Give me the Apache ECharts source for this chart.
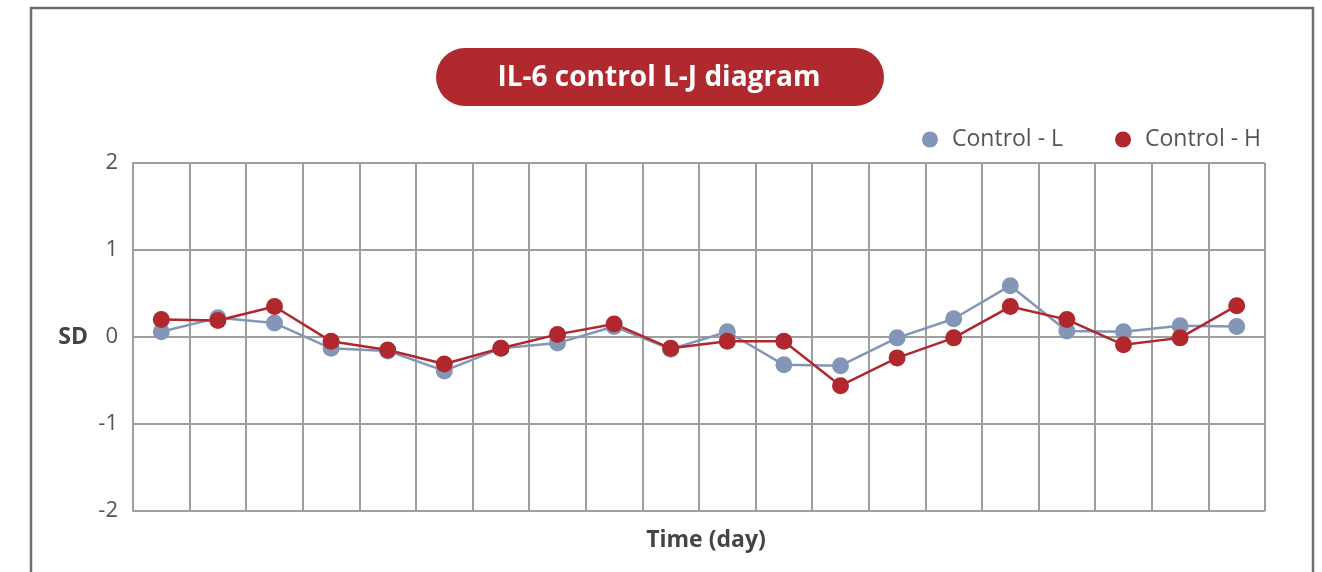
<!DOCTYPE html>
<html>
<head>
<meta charset="utf-8">
<script src="https://cdn.jsdelivr.net/npm/echarts@6/dist/echarts.min.js"></script>
<style>html,body{margin:0;padding:0;background:#fff}#c{width:1322px;height:572px}</style>
</head>
<body>
<div id="c"></div>
<script>
const days = ['1','2','3','4','5','6','7','8','9','10','11','12','13','14','15','16','17','18','19','20'];
const controlL = [0.06, 0.22, 0.16, -0.13, -0.16, -0.39, -0.13, -0.07, 0.12, -0.14, 0.06, -0.32, -0.33, -0.01, 0.21, 0.59, 0.07, 0.06, 0.13, 0.12];
const controlH = [0.20, 0.19, 0.35, -0.05, -0.15, -0.31, -0.13, 0.03, 0.15, -0.13, -0.05, -0.05, -0.56, -0.24, -0.01, 0.35, 0.20, -0.09, -0.01, 0.36];
const yTicks = [-2, -1, 0, 1, 2];

const FONT = '"Open Sans", "Noto Sans", sans-serif';
const chart = echarts.init(document.getElementById('c'));
chart.setOption({
  animation: false,
  textStyle: { fontFamily: FONT },
  graphic: [
    { type: 'rect', shape: { x: 31, y: 8, width: 1282, height: 600 }, style: { fill: 'none', stroke: '#6e6e6e', lineWidth: 2.5 }, silent: true },
    { type: 'rect', shape: { x: 436, y: 48, width: 448, height: 58, r: 29 }, style: { fill: '#b0292e' } },
    { type: 'text', x: 659, y: 78, style: { text: 'IL-6 control L-J diagram', fill: '#ffffff', font: 'bold 28px ' + FONT, align: 'center', verticalAlign: 'middle' } }
  ],
  legend: {
    right: 56, top: 123,
    itemGap: 52,
    icon: 'circle', itemWidth: 16, itemHeight: 16,
    textStyle: { fontSize: 23, color: '#555', fontFamily: FONT, padding: [0, 0, 0, 9] },
    data: ['Control - L', 'Control - H']
  },
  grid: { left: 133, right: 57, top: 163, bottom: 61, containLabel: false },
  xAxis: {
    type: 'category', data: days, boundaryGap: true,
    name: 'Time (day)', nameLocation: 'middle', nameGap: 18,
    nameTextStyle: { fontSize: 23, fontWeight: 'bold', color: '#444', fontFamily: FONT, padding: [0, 0, 0, 14] },
    axisLine: { show: true, lineStyle: { color: '#9e9e9e', width: 2 } },
    axisTick: { show: false }, axisLabel: { show: false },
    splitLine: { show: true, interval: 0, lineStyle: { color: '#9e9e9e', width: 2 } }
  },
  yAxis: {
    type: 'value', min: yTicks[0], max: yTicks[yTicks.length - 1], interval: 1,
    name: 'SD', nameLocation: 'middle', nameGap: 45, nameRotate: 0,
    nameTextStyle: { fontSize: 23, fontWeight: 'bold', color: '#444', fontFamily: FONT },
    axisLine: { show: true, lineStyle: { color: '#9e9e9e', width: 2 } },
    axisTick: { show: false },
    axisLabel: { fontSize: 22, color: '#555', margin: 15, fontFamily: FONT },
    splitLine: { show: true, lineStyle: { color: '#9e9e9e', width: 2 } }
  },
  series: [
    { name: 'Control - L', type: 'line', data: controlL, symbol: 'circle', symbolSize: 17,
      itemStyle: { color: '#8496b8' }, lineStyle: { color: '#8496b8', width: 2.5 } },
    { name: 'Control - H', type: 'line', data: controlH, symbol: 'circle', symbolSize: 17,
      itemStyle: { color: '#b0282e' }, lineStyle: { color: '#b0282e', width: 2.5 } }
  ]
});
</script>
</body>
</html>
